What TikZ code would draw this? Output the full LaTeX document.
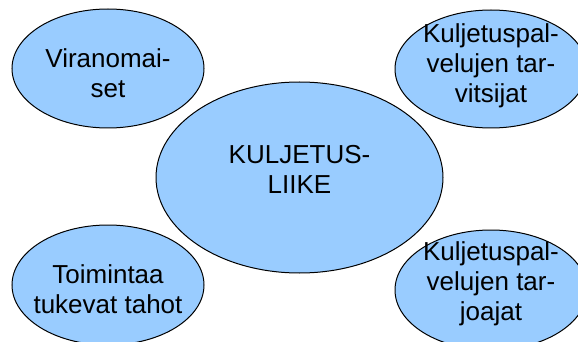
\documentclass[tikz,border=0pt]{standalone}
\usepackage{fontspec}
\setmainfont{Liberation Sans}
\usetikzlibrary{shapes.geometric}
\definecolor{blobblue}{HTML}{99CCFF}

\begin{document}
\begin{tikzpicture}[
        x=1pt, y=-1pt,
        party/.style={draw, ellipse, line width=1pt, fill=blobblue, inner sep=0pt, minimum width=192pt, minimum height=120pt},
        core/.style={party, minimum width=287pt, minimum height=191pt},
        lbl/.style={font=\fontsize{26}{30}\selectfont, align=center, inner sep=0pt}
    ]
    \useasboundingbox (0,0) rectangle (578,342);
    \clip (0,0) rectangle (578,342);

    \node[core, label={[lbl, yshift=8pt]center:KULJETUS-\\LIIKE}] (Liike) at (299.5,177.5) {};

    \node[party, minimum height=119pt, label={[lbl, yshift=-5pt]center:Viranomai-\\set}] (Viranomaiset) at (108,68.5) {};
    \node[party, minimum height=118pt, label={[lbl, yshift=3pt]center:Kuljetuspal-\\velujen tar-\\vitsijat}] (Tarvitsijat) at (491,69) {};
    \node[party, label={[lbl, yshift=-4pt]center:Toimintaa\\tukevat tahot}] (Tukijat) at (108,285) {};
    \node[party, label={[lbl, yshift=6pt]center:Kuljetuspal-\\velujen tar-\\joajat}] (Tarjoajat) at (491,290) {};

\end{tikzpicture}
\end{document}
